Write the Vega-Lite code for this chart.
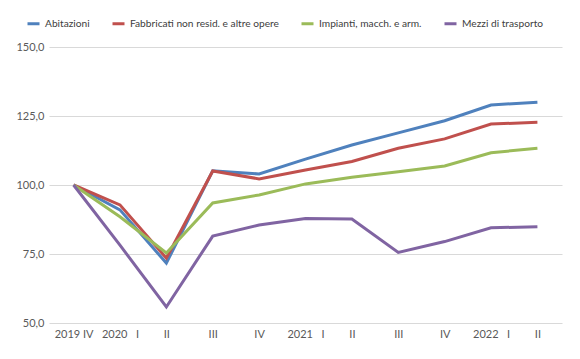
{
  "$schema": "https://vega.github.io/schema/vega-lite/v6.json",
  "width": 513,
  "height": 276,
  "autosize": {"type": "none"},
  "padding": {"left": 49, "top": 47, "right": 18, "bottom": 36},
  "background": "white",
  "config": {
    "view": {"stroke": null},
    "font": "Lato",
    "axis": {"labelFont": "Lato", "labelFontSize": 11, "labelColor": "#595959"},
    "legend": {"labelFont": "Lato", "labelFontSize": 10.2, "labelColor": "#404040"}
  },
  "data": {
    "values": [
      {"t": "2019 IV", "s": "Abitazioni", "v": 100},
      {"t": "2020 I", "s": "Abitazioni", "v": 91.0},
      {"t": "2020 II", "s": "Abitazioni", "v": 71.7},
      {"t": "2020 III", "s": "Abitazioni", "v": 105.1},
      {"t": "2020 IV", "s": "Abitazioni", "v": 104.0},
      {"t": "2021 I", "s": "Abitazioni", "v": 109.4},
      {"t": "2021 II", "s": "Abitazioni", "v": 114.5},
      {"t": "2021 III", "s": "Abitazioni", "v": 118.9},
      {"t": "2021 IV", "s": "Abitazioni", "v": 123.3},
      {"t": "2022 I", "s": "Abitazioni", "v": 129.0},
      {"t": "2022 II", "s": "Abitazioni", "v": 130.0},
      {"t": "2019 IV", "s": "Fabbricati non resid. e altre opere", "v": 100},
      {"t": "2020 I", "s": "Fabbricati non resid. e altre opere", "v": 92.8},
      {"t": "2020 II", "s": "Fabbricati non resid. e altre opere", "v": 73.5},
      {"t": "2020 III", "s": "Fabbricati non resid. e altre opere", "v": 105.1},
      {"t": "2020 IV", "s": "Fabbricati non resid. e altre opere", "v": 102.2},
      {"t": "2021 I", "s": "Fabbricati non resid. e altre opere", "v": 105.4},
      {"t": "2021 II", "s": "Fabbricati non resid. e altre opere", "v": 108.5},
      {"t": "2021 III", "s": "Fabbricati non resid. e altre opere", "v": 113.3},
      {"t": "2021 IV", "s": "Fabbricati non resid. e altre opere", "v": 116.7},
      {"t": "2022 I", "s": "Fabbricati non resid. e altre opere", "v": 122.1},
      {"t": "2022 II", "s": "Fabbricati non resid. e altre opere", "v": 122.7},
      {"t": "2019 IV", "s": "Impianti, macch. e arm.", "v": 100},
      {"t": "2020 I", "s": "Impianti, macch. e arm.", "v": 88.5},
      {"t": "2020 II", "s": "Impianti, macch. e arm.", "v": 75.4},
      {"t": "2020 III", "s": "Impianti, macch. e arm.", "v": 93.5},
      {"t": "2020 IV", "s": "Impianti, macch. e arm.", "v": 96.4},
      {"t": "2021 I", "s": "Impianti, macch. e arm.", "v": 100.4},
      {"t": "2021 II", "s": "Impianti, macch. e arm.", "v": 102.8},
      {"t": "2021 III", "s": "Impianti, macch. e arm.", "v": 104.8},
      {"t": "2021 IV", "s": "Impianti, macch. e arm.", "v": 106.9},
      {"t": "2022 I", "s": "Impianti, macch. e arm.", "v": 111.7},
      {"t": "2022 II", "s": "Impianti, macch. e arm.", "v": 113.3},
      {"t": "2019 IV", "s": "Mezzi di trasporto", "v": 100},
      {"t": "2020 I", "s": "Mezzi di trasporto", "v": 78.2},
      {"t": "2020 II", "s": "Mezzi di trasporto", "v": 55.8},
      {"t": "2020 III", "s": "Mezzi di trasporto", "v": 81.5},
      {"t": "2020 IV", "s": "Mezzi di trasporto", "v": 85.5},
      {"t": "2021 I", "s": "Mezzi di trasporto", "v": 87.9},
      {"t": "2021 II", "s": "Mezzi di trasporto", "v": 87.7},
      {"t": "2021 III", "s": "Mezzi di trasporto", "v": 75.6},
      {"t": "2021 IV", "s": "Mezzi di trasporto", "v": 79.5},
      {"t": "2022 I", "s": "Mezzi di trasporto", "v": 84.5},
      {"t": "2022 II", "s": "Mezzi di trasporto", "v": 84.9}
    ]
  },
  "mark": {"type": "line", "strokeWidth": 3, "strokeJoin": "miter"},
  "encoding": {
    "x": {
      "field": "t",
      "type": "ordinal",
      "sort": null,
      "scale": {"type": "point", "padding": 0.53},
      "axis": {
        "title": null,
        "labelAngle": 0,
        "ticks": false,
        "domain": false,
        "labelPadding": 5,
        "labelExpr": "(slice(datum.value, -2) == ' I') ? replace(datum.value, ' ', '\u00a0\u00a0\u00a0') : (datum.value == '2019 IV' ? datum.value : split(datum.value, ' ')[1])"
      }
    },
    "y": {
      "field": "v",
      "type": "quantitative",
      "scale": {"domain": [50, 150], "nice": false, "zero": false},
      "axis": {
        "title": null,
        "values": [50, 75, 100, 125, 150],
        "ticks": false,
        "domain": false,
        "grid": true,
        "gridColor": "#d9d9d9",
        "gridWidth": 1,
        "labelPadding": 5,
        "labelExpr": "replace(format(datum.value, '.1f'), '.', ',')"
      }
    },
    "color": {
      "field": "s",
      "type": "nominal",
      "scale": {
        "domain": ["Abitazioni", "Fabbricati non resid. e altre opere", "Impianti, macch. e arm.", "Mezzi di trasporto"],
        "range": ["#4F81BD", "#C0504D", "#9BBB59", "#8064A2"]
      },
      "legend": {
        "title": null,
        "orient": "none",
        "direction": "horizontal",
        "legendX": -23,
        "legendY": -31,
        "symbolType": "stroke",
        "symbolSize": 144,
        "symbolStrokeWidth": 3,
        "labelOffset": 4,
        "columnPadding": 16,
        "labelLimit": 300
      }
    }
  }
}
